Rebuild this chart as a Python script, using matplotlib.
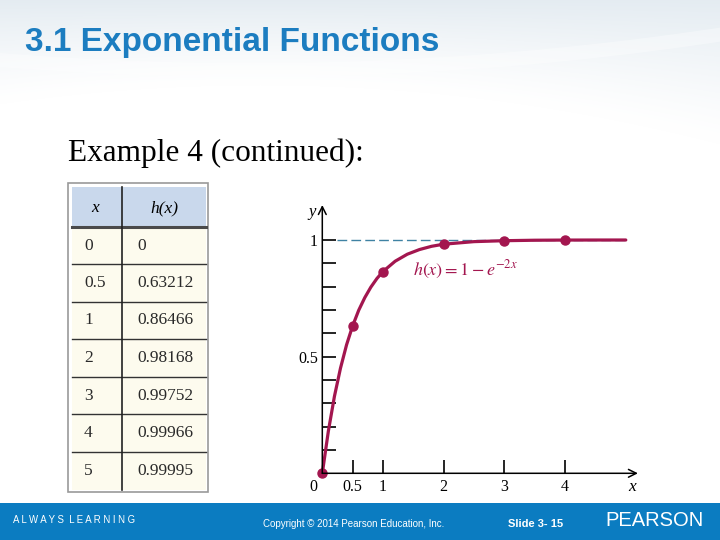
import numpy as np
import matplotlib.pyplot as plt
from matplotlib.patches import Rectangle

plt.rcParams['mathtext.fontset'] = 'stix'

# table data
tab_x = ['0', '0.5', '1', '2', '3', '4', '5']
tab_h = ['0', '0.63212', '0.86466', '0.98168', '0.99752', '0.99966', '0.99995']

# plotted points
pts_x = [0, 0.5, 1, 2, 3, 4]
pts_y = [0, 0.63212, 0.86466, 0.98168, 0.99752, 0.99966]

# curve
curve_x = [0, 0.1, 0.2, 0.3, 0.4, 0.5, 0.6, 0.7, 0.8, 0.9, 1.0, 1.2, 1.4,
           1.6, 1.8, 2.0, 2.5, 3.0, 3.5, 4.0, 4.5, 5.0]
curve_y = [0, 0.181, 0.330, 0.451, 0.551, 0.632, 0.699, 0.753, 0.798, 0.835,
           0.865, 0.909, 0.939, 0.959, 0.973, 0.982, 0.993, 0.997, 0.999,
           0.9997, 0.9999, 1.0]

xtick_vals = [0.5, 1, 2, 3, 4]
xtick_labels = ['0.5', '1', '2', '3', '4']
ytick_vals = [0.1, 0.2, 0.3, 0.4, 0.5, 0.6, 0.7, 0.8, 0.9, 1.0]
ytick_labels = ['', '', '', '', '0.5', '', '', '', '', '1']

crimson = '#a3164f'
blue = '#1c7dc0'

fig = plt.figure(figsize=(7.2, 5.4), dpi=100)

# ---- background layer in pixel coordinates
bg = fig.add_axes([0, 0, 1, 1])
bg.set_xlim(0, 720)
bg.set_ylim(540, 0)
bg.axis('off')

# faint tinted swoosh at the top of the slide
px = np.arange(720)[None, :]
py = np.arange(180)[:, None]
reach = 85 + 0.00028 * (px - 260) ** 2
strength = np.clip(1 - py / reach, 0, 1) ** 1.3 * 0.75
tint = np.array([0.86, 0.90, 0.93])
img = 1 - strength[..., None] * (1 - tint[None, None, :])
bg.imshow(img, extent=(0, 720, 180, 0), aspect='auto', zorder=0)
tt = np.linspace(0, 720, 200)
bg.plot(tt, 70 - 0.00016 * (tt - 250) ** 2, color='white', lw=10, alpha=0.35, zorder=1)

bg.text(25, 43, '3.1 Exponential Functions', fontsize=24, fontweight='bold',
        family='Liberation Sans', color=blue, va='center', ha='left', zorder=3)
bg.text(68, 161, 'Example 4 (continued):', fontsize=22.5, family='Liberation Serif',
        color='black', va='baseline', ha='left', zorder=3)

# ---- table
bg.add_patch(Rectangle((68, 183), 140, 309, fc='white', ec='#9a9a9a', lw=1.2, zorder=2))
bg.add_patch(Rectangle((72, 187), 134, 40, fc='#c9d8ec', ec='none', zorder=2))
bg.add_patch(Rectangle((72, 227), 134, 263, fc='#fdfbee', ec='none', zorder=2))
row_lines = [264, 302, 339, 377, 414, 452]
bg.plot([72, 206], [227, 227], color='#4a4a4a', lw=2.2, zorder=3)
for yl in row_lines:
    bg.plot([72, 206], [yl, yl], color='#333333', lw=1, zorder=3)
bg.plot([122, 122], [187, 490], color='#222222', lw=1.2, zorder=3)
bg.text(95, 208, 'x', fontsize=12.5, family='Liberation Serif', style='italic',
        ha='center', va='center', zorder=4)
bg.text(164, 208, 'h(x)', fontsize=12.5, family='Liberation Serif', style='italic',
        ha='center', va='center', zorder=4)
edges = [227] + row_lines + [490]
for i in range(len(tab_x)):
    yc = (edges[i] + edges[i + 1]) / 2
    bg.text(84, yc, tab_x[i], fontsize=12.5, family='Liberation Serif',
            color='#2a2a2a', ha='left', va='center', zorder=4)
    bg.text(137, yc, tab_h[i], fontsize=12.5, family='Liberation Serif',
            color='#2a2a2a', ha='left', va='center', zorder=4)

# ---- footer
bg.add_patch(Rectangle((0, 503), 720, 37, fc='#0b7cc1', ec='none', zorder=2))
bg.text(13, 520, 'A L W A Y S  L E A R N I N G', fontsize=6.9, color='white',
        family='Liberation Sans', va='center', ha='left', zorder=3)
bg.text(263, 524, 'Copyright \u00a9 2014 Pearson Education, Inc.', fontsize=7,
        color='white', family='Liberation Sans', va='center', ha='left', zorder=3)
bg.text(508, 524, 'Slide 3- 15', fontsize=8, fontweight='bold', color='white',
        family='Liberation Sans', va='center', ha='left', zorder=3)
bg.text(605, 521, 'PEARSON', fontsize=14.5, color='white',
        family='Liberation Sans', va='center', ha='left', zorder=3)

# ---- graph
x0px, ppx = 322.3, 60.7
y0px, ppy = 473.3, 233.3
L, R, T, B = 295, 645, 200, 500
ax = fig.add_axes([L / 720, (540 - B) / 540, (R - L) / 720, (B - T) / 540])
ax.patch.set_alpha(0)
ax.set_xlim(-(x0px - L) / ppx, (R - x0px) / ppx)
ax.set_ylim(-(B - y0px) / ppy, (y0px - T) / ppy)

for s in ['top', 'right']:
    ax.spines[s].set_visible(False)
ax.spines['left'].set_position(('data', 0))
ax.spines['bottom'].set_position(('data', 0))
ax.spines['left'].set_color('none')
ax.spines['bottom'].set_color('none')

ax.set_xticks(xtick_vals)
ax.set_xticklabels(xtick_labels)
ax.set_yticks(ytick_vals)
ax.set_yticklabels(ytick_labels)
ax.tick_params(axis='x', direction='in', length=9.5, width=1.2, pad=4,
               labelsize=11.5, colors='black')
ax.tick_params(axis='y', direction='in', length=10, width=1.2, pad=3,
               labelsize=11.5, colors='black')
for lab in ax.get_xticklabels() + ax.get_yticklabels():
    lab.set_family('Liberation Serif')

# axes with arrows
ax.annotate('', xy=(5.2, 0), xytext=(0, 0),
            arrowprops=dict(arrowstyle='->', lw=1.1, color='black',
                            shrinkA=0, shrinkB=0, mutation_scale=14))
ax.annotate('', xy=(0, 1.15), xytext=(0, 0),
            arrowprops=dict(arrowstyle='->', lw=1.1, color='black',
                            shrinkA=0, shrinkB=0, mutation_scale=14))

ax.plot([0.25, 5.0], [1, 1], color='#3f82a3', lw=1, dashes=(7, 3))
ax.plot(curve_x, curve_y, color=crimson, lw=2.3, solid_capstyle='round')
ax.plot(pts_x, pts_y, 'o', color=crimson, ms=6.5)

ax.text(-0.14, -0.058, '0', fontsize=11.5, family='Liberation Serif',
        ha='center', va='center')
ax.text(-0.17, 1.12, 'y', fontsize=12, family='Liberation Serif', style='italic',
        ha='center', va='center')
ax.text(5.1, -0.058, 'x', fontsize=12.5, family='Liberation Serif', style='italic',
        ha='center', va='center')
ax.text(1.5, 0.87, r'$h(x) = 1 - e^{-2x}$', fontsize=13, color=crimson,
        ha='left', va='center')

fig.savefig('out.png', dpi=100)
